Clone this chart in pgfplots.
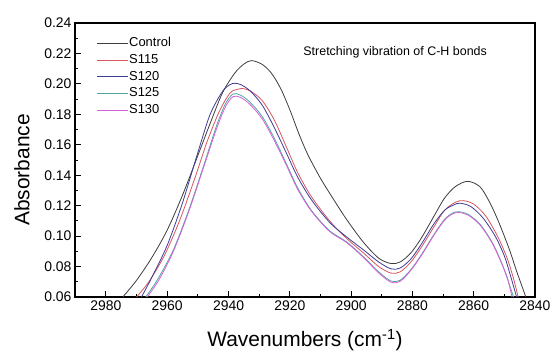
\documentclass[border=0pt]{standalone}
\usepackage{fontspec}
\setmainfont{Liberation Sans}
\usepackage{pgfplots}
\pgfplotsset{compat=1.18}
\definecolor{cctrl}{RGB}{60,60,60}
\definecolor{cs115}{RGB}{215,85,95}
\definecolor{cs120}{RGB}{60,60,150}
\definecolor{cs125}{RGB}{80,165,165}
\definecolor{cs130}{RGB}{215,95,215}
\begin{document}
\begin{tikzpicture}
\begin{axis}[
  at={(0,0)}, anchor=south west,
  scale only axis, width=460bp, height=274bp,
  x dir=reverse,
  xmin=2840, xmax=2990.1, ymin=0.06, ymax=0.24,
  xtick={2840,2860,2880,2900,2920,2940,2960,2980},
  ytick={0.06,0.08,0.10,0.12,0.14,0.16,0.18,0.20,0.22,0.24},
  minor x tick num=1, minor y tick num=1,
  tick align=inside,
  xtick pos=bottom, ytick pos=left,
  major tick length=6bp, minor tick length=3.5bp,
  axis line style={line width=1.1pt},
  every tick/.style={black, line width=1pt},
  tick label style={font=\fontsize{14}{16}\selectfont},
  /pgf/number format/assume math mode=true,
  yticklabel style={/pgf/number format/.cd, fixed, fixed zerofill, precision=2},
  xticklabel style={/pgf/number format/.cd, set thousands separator={}},
  xlabel={Wavenumbers (cm\textsuperscript{-1})},
  ylabel={Absorbance},
  label style={font=\fontsize{21}{24}\selectfont},
  xlabel style={at={(axis description cs:0.5,0)}, anchor=center, yshift=-43bp},
  ylabel style={at={(axis description cs:-0.1152,0.464)}, anchor=center},
  legend style={at={(axis description cs:0.046,0.952)}, anchor=north west, draw=none, fill=none,
    font=\fontsize{13}{15}\selectfont, inner sep=0pt, row sep=2.8bp,
    nodes={inner sep=1bp, text height=9.4bp, text depth=2.5bp}},
  legend cell align=left,
  legend image code/.code={\draw[#1] (0bp,0bp) -- (31bp,0bp);},
  every axis plot/.append style={line width=0.8pt},
]
\addplot[smooth, cctrl] coordinates {
(2974.5,0.060) (2970,0.071) (2965,0.086) (2960,0.104) (2955,0.127) (2950,0.153)
(2946,0.174) (2942,0.194) (2938,0.207) (2935,0.213) (2932.5,0.2153) (2929,0.2128)
(2926,0.207) (2923,0.197) (2920,0.183) (2917,0.167) (2914,0.153) (2910,0.138)
(2906,0.125) (2901.5,0.111) (2896,0.096) (2891,0.0855) (2887,0.082) (2884,0.083) (2880.5,0.089)
(2877,0.099) (2873,0.113) (2869.5,0.125) (2866,0.1325) (2862,0.136) (2858,0.1325)
(2855,0.123) (2852,0.110) (2848.5,0.092) (2846,0.077) (2843,0.060)};
\addlegendentry{Control}
\addplot[smooth, cs115] coordinates {
(2970,0.060) (2966,0.070) (2961,0.087) (2956,0.110) (2951,0.138) (2947,0.162)
(2943,0.182) (2939.5,0.194) (2937,0.1965) (2935.7,0.197) (2933,0.1955) (2929,0.189)
(2925,0.176) (2921,0.158) (2917.5,0.142) (2913,0.126) (2907,0.110) (2901.5,0.0985)
(2896,0.089) (2891,0.080) (2887,0.0757) (2884,0.0765) (2880.5,0.083) (2877,0.093)
(2873,0.106) (2869.5,0.117) (2866,0.1222) (2863.4,0.1233) (2860,0.121) (2856,0.113)
(2852,0.099) (2849,0.085) (2847,0.072) (2845.5,0.060)};
\addlegendentry{S115}
\addplot[smooth, cs120] coordinates {
(2968.4,0.060) (2965,0.073) (2960,0.094) (2955,0.122) (2950,0.155) (2946,0.180)
(2942,0.195) (2939.5,0.1995) (2938,0.2004) (2936,0.1995) (2933,0.1955) (2929,0.186)
(2925,0.171) (2921,0.154) (2917.5,0.139) (2913,0.124) (2907,0.109) (2901.5,0.0995)
(2896,0.091) (2891,0.083) (2887,0.0785) (2884,0.079) (2880.5,0.085) (2877,0.095)
(2873,0.108) (2869.5,0.117) (2866.5,0.1205) (2864.5,0.1216) (2861,0.1195) (2857,0.112)
(2853,0.100) (2850,0.087) (2848,0.074) (2846,0.060)};
\addlegendentry{S120}
\addplot[smooth, cs125] coordinates {
(2967,0.060) (2963,0.072) (2958,0.091) (2953,0.117) (2948,0.147) (2944,0.172)
(2941,0.187) (2938.5,0.1934) (2936,0.1925) (2933,0.188) (2929,0.1785) (2925,0.164)
(2921,0.147) (2917.5,0.132) (2913,0.117) (2907,0.1035) (2901.5,0.0963) (2896,0.0865)
(2891,0.0765) (2887,0.0705) (2884,0.071) (2880.5,0.078) (2877,0.088) (2873,0.101)
(2869.5,0.111) (2867,0.115) (2865,0.116) (2862,0.1145) (2858,0.108) (2854,0.096)
(2851,0.083) (2849,0.072) (2847,0.060)};
\addlegendentry{S125}
\addplot[smooth, cs130] coordinates {
(2966.5,0.060) (2962.5,0.072) (2958,0.090) (2953,0.116) (2948,0.146) (2944,0.170)
(2941,0.185) (2938.5,0.1917) (2936,0.191) (2933,0.1865) (2929,0.177) (2925,0.1625)
(2921,0.146) (2917.5,0.131) (2913,0.1165) (2907,0.103) (2901.5,0.0958) (2896,0.086)
(2891,0.0758) (2887,0.0697) (2884,0.0703) (2880.5,0.0775) (2877,0.0875) (2873,0.1005)
(2869.5,0.1105) (2867,0.1145) (2865,0.1155) (2862,0.114) (2858,0.1075) (2854,0.0955)
(2851,0.0825) (2849,0.0725) (2847.5,0.060)};
\addlegendentry{S130}
\node[font=\fontsize{12.5}{14}\selectfont, anchor=center] at (axis description cs:0.696,0.894) {Stretching vibration of C-H bonds};
\end{axis}
\pgfresetboundingbox
\useasboundingbox (-75bp,-61bp) rectangle (476bp,297bp);
\end{tikzpicture}
\end{document}
